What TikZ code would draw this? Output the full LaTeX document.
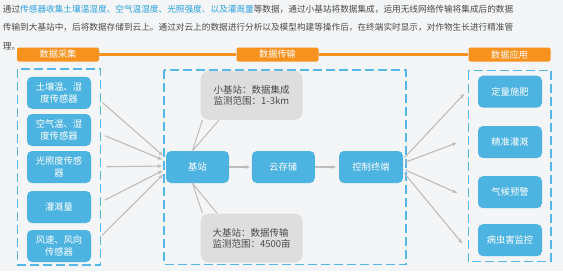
\documentclass[tikz,border=0pt]{standalone}
\usepackage{fontspec}
\setmainfont{Noto Sans CJK SC}
\usetikzlibrary{arrows.meta,calc}
\definecolor{bgc}{HTML}{F3F5F7}
\definecolor{boxblue}{HTML}{4DB3E0}
\definecolor{dashblue}{HTML}{55B7E8}
\definecolor{hdrorange}{HTML}{F7921E}
\definecolor{notegray}{HTML}{DEDEDE}
\definecolor{txtgray}{HTML}{4A4A4A}
\definecolor{linkblue}{HTML}{2AA0DC}
\definecolor{arrgray}{HTML}{BDBDBD}
\tikzset{every picture/.style={line width=0.5pt},
  blk/.style={fill=boxblue,text=white,rounded corners=5pt,minimum width=64pt,minimum height=32pt,inner sep=0pt,align=center,font=\fontsize{9.3}{11.3}\selectfont},
  hdr/.style={fill=hdrorange,text=white,rounded corners=2pt,minimum width=82pt,minimum height=14pt,inner sep=0pt,font=\fontsize{9.2}{11}\selectfont},
  note/.style={fill=notegray,text=txtgray,rounded corners=8pt,minimum width=102pt,minimum height=49pt,inner sep=0pt,align=left,font=\fontsize{9.5}{11}\selectfont},
  frame/.style={draw=dashblue,line width=1.5pt,dash pattern=on 9pt off 4pt},
  arr/.style={draw=arrgray,line width=1.1pt,-{Latex[length=5pt,width=4pt]}},
  para/.style={anchor=base west,inner sep=0pt,text=txtgray,font=\fontsize{8.65}{10}\selectfont}
}
\begin{document}
\begin{tikzpicture}[x=1pt,y=-1pt]
\fill[bgc] (0,0) rectangle (563,271);
\useasboundingbox (0,0) rectangle (563,271);
\node[para] (txtA) at (2.7,12.5) {通过\textcolor{linkblue}{传感器收集土壤温湿度、空气温湿度、光照强度、以及灌溉量}等数据，通过小基站将数据集成，运用无线网络传输将集成后的数据};
\node[para] (txtB) at (2.7,30.8) {传输到大基站中，后将数据存储到云上。通过对云上的数据进行分析以及模型构建等操作后，在终端实时显示，对作物生长进行精准管};
\node[para] (txtC) at (2.7,49) {理。};
\node[hdr] (hA) at (58,54.5) {数据采集};
\node[hdr] (hB) at (277.5,54.5) {数据传输};
\node[hdr] (hC) at (509.5,54.5) {数据应用};
\draw[hdrorange,line width=3.8pt] (hA.east) -- (hB.west) (hB.east) -- (hC.west);
\draw[frame] (17.7,69) rectangle (100.7,265);
\draw[frame] (164,70) rectangle (406,264.3);
\draw[frame] (468.3,70.7) rectangle (551,261.7);
\foreach \n/\y/\t in {1/92.8/{土壤温、湿\\度传感器}, 2/130/{空气温、湿\\度传感器}, 3/167/{光照度传感\\器}, 4/207/{灌溉量}, 5/246/{风速、风向\\传感器}}
  \node[blk] (sen\n) at (59,\y) {\t};
\node[blk,minimum width=63pt] (base) at (197.5,167) {基站};
\node[blk,minimum width=63pt] (cloud) at (283.3,167) {云存储};
\node[blk] (ctrl) at (371,167) {控制终端};
\node[note] (small) at (251.7,95.3) {小基站：数据集成\\监测范围：1-3km};
\node[note] (big) at (251.7,238) {大基站：数据传输\\监测范围：4500亩};
\foreach \n/\y/\t in {1/91.7/{定量施肥}, 2/142/{精准灌溉}, 3/192.2/{气候预警}, 4/240.2/{病虫害监控}}
  \node[blk] (app\n) at (510,\y) {\t};
\coordinate (tipS) at ($(base.north)+(-5,0)$);
\coordinate (tipB) at ($(base.south)+(-5,0)$);
\draw[arrgray,line width=1pt] ($(small.south west)+(2,0)$) -- (tipS) -- ($(small.south west)+(18.6,0)$);
\draw[arrgray,line width=1pt] ($(big.north west)+(2,0)$) -- (tipB) -- ($(big.north west)+(16.6,0)$);
\foreach \n/\dy in {1/-9, 2/-6, 3/-1, 4/2, 5/5}
  \draw[arr,shorten <=15pt,shorten >=3pt] (sen\n.east) -- ($(base.west)+(0,\dy)$);
\draw[arr,shorten >=1pt] (base) -- (cloud);
\draw[arr,shorten >=2pt] (cloud) -- (ctrl);
\foreach \n/\sy/\ex/\ey in {1/-8/-13/1.6, 2/-4/-20.5/0.7, 3/2/-20/1.1, 4/5/-15/3.8}
  \draw[arr,shorten <=2pt] ($(ctrl.east)+(0,\sy)$) -- ($(app\n.west)+(\ex,\ey)$);
\end{tikzpicture}
\end{document}
